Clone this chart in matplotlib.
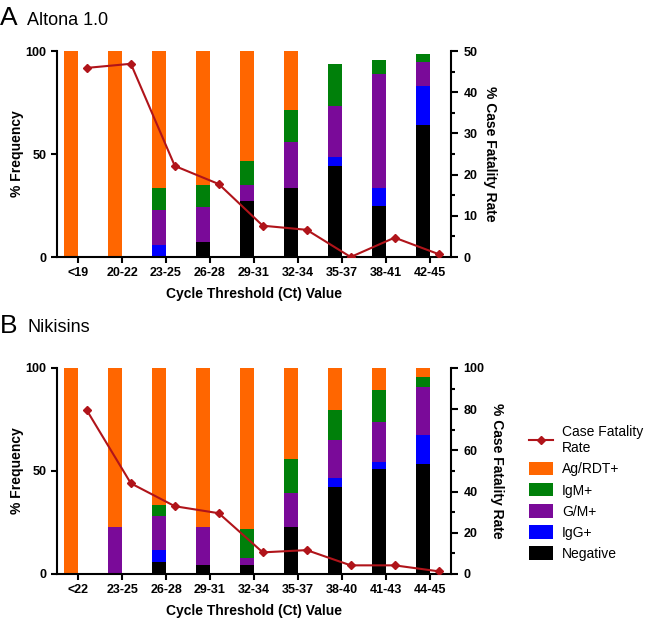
import numpy as np
import matplotlib
matplotlib.use("Agg")
import matplotlib.pyplot as plt
from matplotlib.lines import Line2D
from matplotlib.patches import Patch
from matplotlib.ticker import MultipleLocator

plt.rcParams['font.family'] = ['Liberation Sans', 'DejaVu Sans']

# Panel A - Altona 1.0
cats_a = ["<19", "20-22", "23-25", "26-28", "29-31", "32-34", "35-37", "38-41", "42-45"]
neg_a = [0, 0, 0, 7.4, 27.4, 33.7, 44.2, 24.8, 64.0]
igg_a = [0, 0, 6.0, 0, 0, 0, 4.2, 8.9, 18.9]
gm_a = [0, 0, 16.6, 17.0, 7.6, 22.1, 24.8, 55.3, 11.8]
igm_a = [0, 0, 11.1, 10.4, 11.5, 15.5, 20.7, 6.5, 3.7]
ag_a = [100, 100, 66.3, 65.2, 53.5, 28.7, 0, 0, 0]
cfr_a = [45.9, 46.9, 22.1, 17.7, 7.6, 6.6, 0.0, 4.7, 0.7]

# Panel B - Nikisins
cats_b = ["<22", "23-25", "26-28", "29-31", "32-34", "35-37", "38-40", "41-43", "44-45"]
neg_b = [0, 0, 6.0, 4.2, 4.2, 22.6, 42.3, 50.9, 53.3]
igg_b = [0, 0, 5.6, 0, 0, 0, 4.2, 3.7, 14.3]
gm_b = [0, 22.6, 16.6, 18.4, 3.4, 16.6, 18.7, 19.2, 23.0]
igm_b = [0, 0, 5.3, 0, 14.2, 16.6, 14.6, 15.6, 5.0]
ag_b = [100, 77.4, 66.5, 77.4, 78.2, 44.2, 20.2, 10.6, 4.4]
cfr_b = [79.4, 44.0, 32.9, 29.5, 10.5, 11.6, 4.2, 4.2, 1.3]

colors = {"Negative": "#000000", "IgG+": "#0000FF", "G/M+": "#7A0A99",
          "IgM+": "#00800A", "Ag/RDT+": "#FF6600"}
line_col = "#B0141A"

fig = plt.figure(figsize=(6.5, 6.19), dpi=100)


def panel(rect, cats, stacks, cfr, cfr_max, cfr_major):
    ax = fig.add_axes(rect)
    x = np.arange(len(cats))
    bottom = np.zeros(len(cats))
    for name, vals in stacks:
        ax.bar(x - 0.16, vals, width=0.32, bottom=bottom, color=colors[name],
               edgecolor="none", label=name)
        bottom = bottom + np.array(vals)
    ax.set_xlim(-0.48, len(cats) - 0.52)
    ax.set_ylim(0, 100)
    ax.set_yticks([0, 50, 100])
    ax.set_xticks(x)
    ax.set_xticklabels(cats, fontweight="bold", fontsize=9)
    for lab in ax.get_yticklabels():
        lab.set_fontweight("bold")
        lab.set_fontsize(9)
    ax.spines["top"].set_visible(False)
    ax.spines["right"].set_visible(False)
    for s in ["left", "bottom"]:
        ax.spines[s].set_linewidth(1.5)
    ax.tick_params(width=1.5, length=4.5, direction="out", pad=3)
    ax.set_ylabel("% Frequency", fontweight="bold", fontsize=10)
    ax.yaxis.set_label_coords(-0.085, 0.5)
    ax.set_xlabel("Cycle Threshold (Ct) Value", fontweight="bold", fontsize=10)
    ax.xaxis.set_label_coords(0.5, -0.145)

    ax2 = ax.twinx()
    ax2.plot(x + 0.2, cfr, color=line_col, lw=1.5, marker="D", ms=4)
    ax2.set_ylim(0, cfr_max)
    ax2.yaxis.set_major_locator(MultipleLocator(cfr_major))
    ax2.yaxis.set_minor_locator(MultipleLocator(cfr_major / 2))
    for s in ["top", "left", "bottom"]:
        ax2.spines[s].set_visible(False)
    ax2.spines["right"].set_linewidth(1.5)
    ax2.tick_params(which="major", width=1.5, length=5, pad=4)
    ax2.tick_params(which="minor", width=1.5, length=3)
    for lab in ax2.get_yticklabels():
        lab.set_fontweight("bold")
        lab.set_fontsize(9)
    ax2.set_ylabel("% Case Fatality Rate", fontweight="bold", fontsize=10,
                   rotation=270, labelpad=14)
    return ax, ax2


stack_a = [("Negative", neg_a), ("IgG+", igg_a), ("G/M+", gm_a), ("IgM+", igm_a), ("Ag/RDT+", ag_a)]
stack_b = [("Negative", neg_b), ("IgG+", igg_b), ("G/M+", gm_b), ("IgM+", igm_b), ("Ag/RDT+", ag_b)]

panel([0.0877, 0.5848, 0.606, 0.3328], cats_a, stack_a, cfr_a, 50, 10)
panel([0.0877, 0.0727, 0.606, 0.3328], cats_b, stack_b, cfr_b, 100, 20)

fig.text(0.0, 0.99, "A", fontsize=19, va="top", ha="left")
fig.text(0.042, 0.981, "Altona 1.0", fontsize=13, va="top", ha="left")
fig.text(0.0, 0.493, "B", fontsize=19, va="top", ha="left")
fig.text(0.042, 0.484, "Nikisins", fontsize=13, va="top", ha="left")

handles = [Line2D([0], [0], color=line_col, lw=1.5, marker="D", ms=4)]
labels = ["Case Fatality\nRate"]
for name in ["Ag/RDT+", "IgM+", "G/M+", "IgG+", "Negative"]:
    handles.append(Patch(facecolor=colors[name]))
    labels.append(name)
fig.legend(handles, labels, loc="upper left", bbox_to_anchor=(0.806, 0.322),
           frameon=False, fontsize=10, handlelength=1.7, handleheight=1.1,
           labelspacing=0.48, handletextpad=0.65, borderaxespad=0)

fig.savefig("out.png", dpi=100)
